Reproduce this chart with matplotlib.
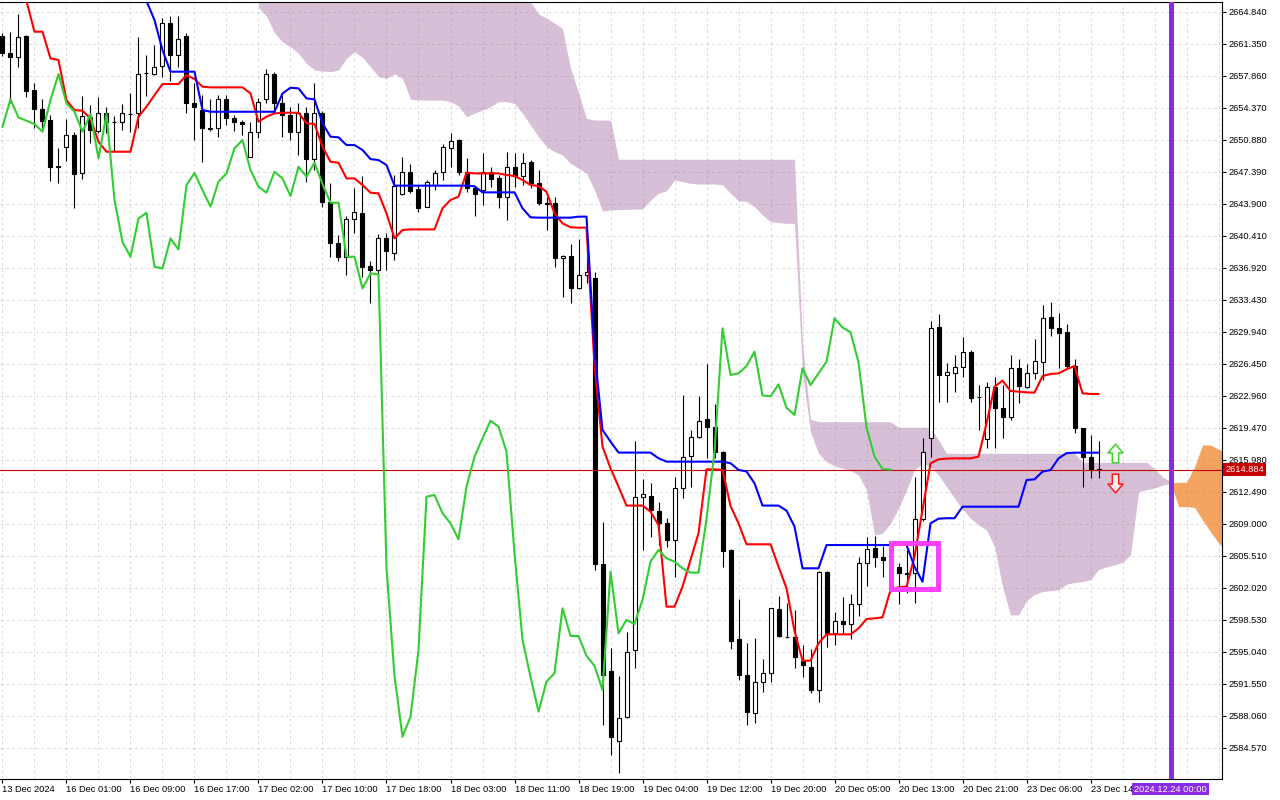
import numpy as np
import matplotlib.pyplot as plt
from matplotlib.patches import Rectangle
from matplotlib.path import Path

plt.rcParams['font.family'] = ['Liberation Sans', 'DejaVu Sans']

# XAUUSD H1, 13 Dec 2024 16:00 .. 23 Dec 2024 15:00 (bar index 0..137)
opens = [
    2662.19, 2660.37, 2659.93, 2662.19, 2656.29, 2654.22, 2653.02, 2648.00, 2650.04, 2651.39,
    2647.20, 2653.39, 2651.86, 2653.75, 2652.80, 2652.77, 2653.70, 2653.82, 2658.11, 2658.04,
    2658.91, 2663.64, 2660.11, 2662.19, 2654.84, 2654.12, 2652.15, 2652.12, 2655.28, 2653.21,
    2652.85, 2648.96, 2651.68, 2655.28, 2658.04, 2654.84, 2653.57, 2651.68, 2653.75, 2648.74,
    2653.75, 2644.12, 2639.65, 2638.05, 2642.20, 2642.85, 2637.11, 2636.67, 2640.12, 2638.56,
    2644.96, 2647.32, 2645.50, 2643.58, 2645.94, 2647.40, 2649.94, 2650.85, 2647.40, 2645.58,
    2645.40, 2647.40, 2646.67, 2644.67, 2647.87, 2646.92, 2648.49, 2646.12, 2643.94, 2643.94,
    2637.98, 2638.20, 2634.67, 2636.09, 2635.76, 2604.61, 2592.95, 2585.31, 2587.89, 2595.24,
    2611.88, 2612.03, 2610.39, 2609.05, 2607.23, 2612.87, 2616.39, 2618.43, 2620.39, 2619.52,
    2616.79, 2606.14, 2596.44, 2592.51, 2588.33, 2591.78, 2592.69, 2599.67, 2596.69, 2596.69,
    2594.03, 2593.41, 2590.87, 2603.77, 2597.05, 2598.43, 2598.07, 2600.25, 2604.68, 2606.32,
    2605.34, 2605.00, 2604.25, 2603.59, 2603.66, 2609.48, 2618.31, 2630.42, 2625.22, 2625.48,
    2626.06, 2627.77, 2622.86, 2618.21, 2623.90, 2621.66, 2620.68, 2625.95, 2623.95, 2625.40,
    2626.67, 2631.51, 2630.31, 2629.95, 2626.20, 2619.40, 2616.24, 2615.00,
]
highs = [
    2662.50, 2662.66, 2664.59, 2662.30, 2657.09, 2655.31, 2653.57, 2649.93, 2653.13, 2651.75,
    2655.64, 2654.66, 2655.50, 2654.40, 2653.46, 2654.77, 2655.93, 2662.04, 2660.11, 2661.20,
    2664.11, 2664.37, 2664.37, 2662.48, 2657.02, 2655.75, 2655.28, 2655.75, 2655.75, 2653.57,
    2653.03, 2652.85, 2655.39, 2658.55, 2658.30, 2655.75, 2654.41, 2654.84, 2654.48, 2657.03,
    2654.00, 2646.12, 2640.50, 2642.56, 2645.58, 2646.92, 2637.60, 2640.60, 2640.67, 2647.03,
    2648.96, 2648.23, 2645.94, 2646.49, 2647.58, 2650.41, 2651.65, 2650.92, 2648.85, 2645.76,
    2649.40, 2647.94, 2647.03, 2649.58, 2649.40, 2649.40, 2648.67, 2647.58, 2644.67, 2644.67,
    2638.31, 2639.51, 2640.02, 2639.03, 2636.50, 2609.23, 2595.42, 2592.40, 2597.16, 2618.03,
    2613.85, 2613.41, 2611.41, 2609.60, 2614.14, 2623.00, 2619.23, 2622.94, 2626.42, 2622.06,
    2616.90, 2606.21, 2600.80, 2595.96, 2596.51, 2594.22, 2599.85, 2601.12, 2600.40, 2599.60,
    2595.78, 2595.31, 2603.88, 2603.88, 2599.41, 2600.98, 2601.34, 2605.41, 2607.52, 2607.66,
    2606.57, 2605.60, 2604.76, 2606.14, 2614.07, 2618.31, 2631.15, 2631.87, 2626.49, 2627.40,
    2629.33, 2627.95, 2624.13, 2624.49, 2625.00, 2624.13, 2627.40, 2626.93, 2626.42, 2629.11,
    2632.85, 2633.22, 2632.02, 2630.78, 2626.93, 2619.40, 2618.68, 2618.02,
]
lows = [
    2660.00, 2654.84, 2658.84, 2655.57, 2652.19, 2652.11, 2646.40, 2646.11, 2648.59, 2643.39,
    2646.59, 2650.48, 2651.64, 2651.64, 2649.57, 2651.93, 2651.75, 2652.11, 2655.64, 2657.93,
    2657.75, 2657.31, 2658.84, 2653.82, 2650.88, 2648.48, 2651.86, 2651.21, 2652.48, 2651.86,
    2651.39, 2648.96, 2651.03, 2654.84, 2653.75, 2651.14, 2650.85, 2649.21, 2646.30, 2647.57,
    2643.50, 2638.05, 2637.60, 2636.12, 2640.67, 2635.94, 2633.04, 2635.94, 2636.67, 2637.76,
    2644.85, 2645.10, 2643.03, 2643.51, 2645.40, 2646.49, 2647.87, 2647.03, 2645.21, 2642.60,
    2643.76, 2645.76, 2643.40, 2642.12, 2645.76, 2645.94, 2645.58, 2643.76, 2641.03, 2636.96,
    2633.76, 2633.03, 2634.56, 2635.22, 2603.96, 2587.06, 2583.79, 2581.79, 2587.78, 2593.24,
    2606.14, 2607.60, 2606.69, 2606.43, 2603.23, 2611.78, 2613.05, 2618.32, 2616.14, 2616.14,
    2604.32, 2595.31, 2591.97, 2587.06, 2587.24, 2590.69, 2591.78, 2596.69, 2596.51, 2593.24,
    2592.25, 2590.58, 2589.60, 2595.60, 2595.78, 2597.05, 2596.40, 2598.94, 2602.21, 2604.25,
    2603.16, 2603.40, 2600.25, 2601.41, 2600.40, 2609.30, 2616.32, 2622.31, 2622.31, 2623.40,
    2624.97, 2622.31, 2619.22, 2617.22, 2617.25, 2618.31, 2620.31, 2622.20, 2623.77, 2624.75,
    2624.68, 2629.47, 2625.95, 2625.95, 2618.93, 2612.97, 2613.95, 2613.95,
]
closes = [
    2660.29, 2659.93, 2662.04, 2656.22, 2654.19, 2652.95, 2647.93, 2647.90, 2651.35, 2647.09,
    2653.46, 2651.93, 2653.75, 2652.77, 2652.77, 2653.75, 2653.68, 2658.04, 2658.18, 2658.77,
    2663.64, 2660.11, 2661.82, 2654.84, 2654.40, 2652.12, 2652.10, 2655.28, 2653.21, 2652.77,
    2652.55, 2651.68, 2655.03, 2658.04, 2654.84, 2653.57, 2651.68, 2653.75, 2648.77, 2653.75,
    2644.12, 2639.65, 2638.05, 2642.20, 2642.96, 2637.04, 2636.67, 2640.12, 2638.78, 2645.83,
    2647.32, 2645.32, 2643.47, 2646.30, 2647.21, 2650.05, 2650.78, 2647.40, 2645.58, 2644.96,
    2647.40, 2646.60, 2644.67, 2647.94, 2646.92, 2648.38, 2646.12, 2643.94, 2643.90, 2637.94,
    2638.20, 2634.67, 2636.13, 2636.42, 2604.61, 2592.51, 2585.71, 2587.78, 2595.05, 2611.88,
    2612.21, 2610.50, 2609.05, 2607.23, 2612.87, 2616.32, 2618.43, 2620.25, 2619.52, 2616.87,
    2606.07, 2596.25, 2592.51, 2588.44, 2591.78, 2592.69, 2599.78, 2596.76, 2596.65, 2594.51,
    2593.60, 2590.87, 2603.77, 2597.05, 2598.43, 2598.03, 2600.25, 2604.76, 2606.21, 2605.34,
    2605.05, 2604.60, 2603.67, 2603.55, 2609.48, 2616.86, 2630.31, 2625.22, 2625.51, 2626.06,
    2627.77, 2622.75, 2622.80, 2623.95, 2621.59, 2620.68, 2625.95, 2624.06, 2625.40, 2626.75,
    2631.40, 2630.31, 2629.84, 2626.20, 2619.40, 2616.24, 2614.97, 2614.88,
]

# Ichimoku lines
tenkan = [
    2668.50, 2668.00, 2667.30, 2666.00, 2662.66, 2662.66, 2659.75, 2659.57, 2655.20, 2654.11,
    2654.04, 2653.20, 2650.66, 2649.57, 2649.57, 2649.57, 2649.57, 2653.39, 2654.48, 2655.75,
    2656.95, 2656.95, 2656.95, 2657.93, 2657.50, 2656.66, 2656.59, 2656.59, 2656.59, 2656.59,
    2656.59, 2655.93, 2652.85, 2653.39, 2653.75, 2653.82, 2653.82, 2653.82, 2652.66, 2652.60,
    2650.12, 2648.48, 2648.37, 2646.66, 2646.66, 2645.94, 2645.10, 2645.03, 2642.85, 2640.13,
    2641.03, 2641.10, 2641.10, 2641.10, 2641.10, 2643.40, 2644.31, 2644.67, 2647.29, 2647.21,
    2647.21, 2647.21, 2647.21, 2647.03, 2646.92, 2646.49, 2645.94, 2645.83, 2645.21, 2642.85,
    2641.76, 2641.33, 2641.29, 2641.29, 2626.30, 2617.41, 2615.05, 2613.05, 2610.98, 2610.98,
    2610.98, 2610.32, 2608.87, 2599.96, 2599.96, 2602.14, 2605.05, 2607.96, 2614.94, 2614.94,
    2614.87, 2610.94, 2609.05, 2606.76, 2606.76, 2606.76, 2606.76, 2604.32, 2601.96, 2597.30,
    2594.07, 2594.07, 2595.96, 2596.94, 2596.94, 2596.94, 2596.94, 2597.59, 2598.61, 2598.68,
    2598.79, 2601.78, 2602.07, 2602.14, 2605.41, 2610.50, 2615.59, 2616.02, 2616.10, 2616.13,
    2616.13, 2616.13, 2616.32, 2619.95, 2623.95, 2624.60, 2623.48, 2623.40, 2623.33, 2623.30,
    2625.11, 2625.33, 2625.40, 2625.84, 2626.20, 2623.22, 2623.15, 2623.15,
]
kijun = [
    2667.50, 2667.50, 2667.50, 2667.50, 2667.50, 2667.50, 2667.50, 2667.50, 2667.50, 2667.50,
    2667.50, 2667.50, 2667.50, 2667.50, 2667.50, 2667.50, 2667.50, 2667.50, 2666.00, 2663.93,
    2660.66, 2658.30, 2658.30, 2658.30, 2658.30, 2654.12, 2653.93, 2653.93, 2653.93, 2653.93,
    2653.93, 2653.93, 2653.93, 2653.93, 2653.93, 2655.93, 2656.55, 2656.48, 2655.39, 2655.28,
    2652.66, 2651.21, 2651.14, 2650.30, 2650.30, 2649.76, 2648.77, 2648.66, 2648.12, 2645.87,
    2645.87, 2645.87, 2645.87, 2645.87, 2645.87, 2645.87, 2645.87, 2645.87, 2645.87, 2645.80,
    2645.14, 2645.14, 2645.14, 2645.14, 2645.14, 2643.40, 2642.42, 2642.38, 2642.38, 2642.38,
    2642.38, 2642.38, 2642.49, 2642.49, 2627.80, 2619.23, 2617.96, 2616.76, 2616.76, 2616.76,
    2616.76, 2616.76, 2616.14, 2615.77, 2615.77, 2615.77, 2615.77, 2615.77, 2615.77, 2615.77,
    2615.77, 2615.60, 2614.87, 2614.70, 2613.41, 2610.98, 2610.98, 2610.98, 2610.43, 2608.69,
    2604.14, 2604.14, 2604.14, 2606.68, 2606.68, 2606.68, 2606.68, 2606.68, 2606.68, 2606.68,
    2606.68, 2606.68, 2606.68, 2606.68, 2604.32, 2602.68, 2609.04, 2609.55, 2609.60, 2609.60,
    2610.86, 2610.86, 2610.86, 2610.86, 2610.86, 2610.86, 2610.86, 2610.86, 2613.77, 2613.84,
    2614.68, 2614.86, 2616.13, 2616.70, 2616.75, 2616.75, 2616.75, 2616.75,
]
# lagging span, drawn from bar 0 to bar 111
chikou = [
    2652.29, 2655.28, 2653.31, 2652.95, 2652.59, 2651.75, 2655.20, 2658.04, 2654.84, 2653.93,
    2651.75, 2653.68, 2648.84, 2653.68, 2644.29, 2639.75, 2638.11, 2642.29, 2642.91, 2637.02,
    2636.84, 2640.11, 2638.91, 2645.93, 2647.25, 2645.39, 2643.58, 2646.30, 2647.21, 2649.94,
    2650.85, 2647.57, 2645.76, 2645.10, 2647.39, 2646.66, 2644.74, 2647.94, 2646.85, 2648.37,
    2646.05, 2644.01, 2644.01, 2638.12, 2638.12, 2634.67, 2636.30, 2636.20, 2604.20, 2592.40,
    2585.78, 2587.96, 2595.23, 2611.95, 2612.13, 2610.14, 2609.05, 2607.30, 2613.04, 2616.31,
    2618.31, 2620.24, 2619.59, 2616.86, 2605.77, 2596.32, 2592.32, 2588.51, 2591.78, 2592.69,
    2599.78, 2596.76, 2596.76, 2594.60, 2593.50, 2590.87, 2603.78, 2597.05, 2598.51, 2598.07,
    2600.69, 2604.87, 2606.14, 2605.23, 2604.87, 2604.14, 2603.67, 2603.67, 2609.50, 2616.90,
    2630.31, 2625.22, 2625.40, 2626.20, 2627.77, 2623.00, 2622.90, 2624.20, 2621.65, 2620.86,
    2625.95, 2624.13, 2625.40, 2626.67, 2631.40, 2630.40, 2629.90, 2626.60, 2619.50, 2616.32,
    2614.97, 2614.90,
]
# cloud spans, bar 32 .. 153 (runs past the last candle)
cloud_start = 32
span_a = [
    2665.30, 2664.37, 2662.55, 2661.54, 2661.02, 2660.30, 2659.21, 2658.48, 2658.37, 2658.30,
    2658.48, 2659.76, 2660.48, 2659.87, 2658.84, 2657.75, 2657.58, 2658.05, 2657.58, 2655.29,
    2655.21, 2655.21, 2655.21, 2655.21, 2655.03, 2654.56, 2653.39, 2653.76, 2654.12, 2654.48,
    2655.03, 2655.03, 2654.85, 2653.76, 2652.48, 2651.21, 2650.12, 2649.57, 2649.21, 2648.31,
    2647.76, 2647.22, 2645.40, 2643.10, 2643.22, 2643.25, 2643.28, 2643.30, 2643.32, 2644.31,
    2645.04, 2645.32, 2646.49, 2646.30, 2646.13, 2646.05, 2646.05, 2646.05, 2645.97, 2645.04,
    2644.23, 2644.15, 2643.58, 2642.67, 2641.94, 2641.85, 2641.76, 2641.76, 2625.50, 2619.00,
    2616.68, 2615.77, 2615.30, 2615.05, 2614.79, 2614.32, 2612.68, 2607.77, 2607.96, 2609.05,
    2610.69, 2612.68, 2614.86, 2615.59, 2615.22, 2614.32, 2613.04, 2611.78, 2610.58, 2609.60,
    2608.87, 2608.32, 2606.50, 2602.14, 2599.05, 2599.05, 2600.60, 2601.30, 2601.60, 2601.70,
    2601.80, 2602.40, 2602.60, 2602.70, 2602.90, 2604.00, 2604.30, 2604.50, 2604.80, 2605.60,
    2612.50, 2612.70, 2612.90, 2613.20, 2613.40, 2613.52, 2613.52, 2615.22, 2617.59, 2617.59,
    2617.12, 2616.80,
]
span_b = [
    2668.00, 2668.00, 2668.00, 2668.00, 2668.00, 2668.00, 2668.00, 2668.00, 2668.00, 2668.00,
    2668.00, 2668.00, 2668.00, 2668.00, 2668.00, 2668.00, 2668.00, 2668.00, 2668.00, 2668.00,
    2668.00, 2668.00, 2668.00, 2668.00, 2668.00, 2668.00, 2668.00, 2668.00, 2668.00, 2668.00,
    2668.00, 2668.00, 2668.00, 2668.00, 2665.90, 2664.60, 2664.12, 2663.60, 2663.00, 2658.70,
    2656.00, 2653.20, 2653.03, 2653.03, 2653.00, 2648.75, 2648.75, 2648.75, 2648.75, 2648.75,
    2648.75, 2648.75, 2648.75, 2648.75, 2648.75, 2648.75, 2648.75, 2648.75, 2648.75, 2648.75,
    2648.75, 2648.75, 2648.75, 2648.75, 2648.75, 2648.75, 2648.75, 2648.75, 2628.50, 2620.40,
    2620.13, 2620.13, 2620.13, 2620.13, 2620.13, 2620.13, 2620.13, 2620.13, 2620.13, 2620.13,
    2619.52, 2619.52, 2619.52, 2619.52, 2619.52, 2618.13, 2616.68, 2616.68, 2616.68, 2616.68,
    2616.68, 2616.68, 2616.68, 2616.68, 2616.68, 2616.68, 2616.68, 2616.68, 2616.68, 2616.68,
    2616.68, 2616.68, 2616.68, 2615.70, 2615.70, 2615.70, 2615.70, 2615.70, 2615.70, 2615.70,
    2615.70, 2615.70, 2615.00, 2614.10, 2613.60, 2610.86, 2610.86, 2610.79, 2609.41, 2608.13,
    2606.93, 2606.00,
]

price_ticks = [2664.840, 2661.350, 2657.860, 2654.370, 2650.880, 2647.390, 2643.900, 2640.410,
               2636.920, 2633.430, 2629.940, 2626.450, 2622.960, 2619.470, 2615.980, 2612.490,
               2609.000, 2605.510, 2602.020, 2598.530, 2595.040, 2591.550, 2588.060, 2584.570]
time_pos = [0, 8, 16, 24, 32, 40, 48, 56, 64, 72, 80, 88, 96, 104, 112, 120, 128, 136]
time_labels = ["13 Dec 2024", "16 Dec 01:00", "16 Dec 09:00", "16 Dec 17:00", "17 Dec 02:00",
               "17 Dec 10:00", "17 Dec 18:00", "18 Dec 03:00", "18 Dec 11:00", "18 Dec 19:00",
               "19 Dec 04:00", "19 Dec 12:00", "19 Dec 20:00", "20 Dec 05:00", "20 Dec 13:00",
               "20 Dec 21:00", "23 Dec 06:00", "23 Dec 14:00"]

last_price = 2614.884
future_bar = 146
future_label = "2024.12.24 00:00"
up_signal = (139, 2616.68)
down_signal = (139, 2613.47)
box_bars = (111.05, 116.95)
box_prices = (2601.86, 2606.88)

fig = plt.figure(figsize=(12.8, 8), dpi=100)
ax = fig.add_axes([0.0, 0.02588, 0.95492, 0.97163])
ax.set_xlim(-0.31, 152.47)
ax.set_ylim(2581.13, 2665.90)

# grid (MT5 style dashes, drawn over the cloud)
grid_kw = dict(color='#808080', alpha=0.28, lw=0.7, ls=(0, (3, 3)), zorder=1.6)
for p in price_ticks:
    ax.axhline(p, **grid_kw)
for g in range(0, 153, 4):
    ax.axvline(g, **grid_kw)

# cloud
cx = np.arange(cloud_start, cloud_start + len(span_a))
sa = np.array(span_a)
sb = np.array(span_b)
ax.fill_between(cx, sa, sb, where=sa <= sb, interpolate=True, color='#d8bfd8', lw=0, zorder=1)
ax.fill_between(cx, sa, sb, where=sa >= sb, interpolate=True, color='#f4a460', lw=0, zorder=1)

# candles
x = np.arange(len(closes))
o = np.array(opens)
c = np.array(closes)
bull = c >= o
ax.vlines(x, lows, highs, color='black', lw=0.8, zorder=3)
ax.bar(x, np.abs(c - o), width=0.5, bottom=np.minimum(o, c),
       color=np.where(bull, 'white', 'black'), edgecolor='black', linewidth=0.8, zorder=3.2)

# bid line
ax.axhline(last_price, color='#c00000', lw=0.8, zorder=3.5)

# ichimoku lines
ax.plot(x, tenkan, color='#ff0000', lw=1.5, zorder=4)
ax.plot(x, kijun, color='#0000ff', lw=1.5, zorder=4)
ax.plot(np.arange(len(chikou)), chikou, color='#32cd32', lw=1.5, zorder=4)

# highlight box
ax.add_patch(Rectangle((box_bars[0], box_prices[0]), box_bars[1] - box_bars[0],
                       box_prices[1] - box_prices[0], fill=False, ec='#ff40ff', lw=3.6, zorder=6))

# day separator for the next session
ax.axvline(future_bar, color='#8a2be2', lw=3.6, zorder=6)

# signal arrows
up_path = Path([(-0.17, -0.5), (0.17, -0.5), (0.17, 0.03), (0.4, 0.03), (0, 0.5),
                (-0.4, 0.03), (-0.17, 0.03), (-0.17, -0.5)], closed=True)
down_path = Path([(-0.17, 0.5), (0.17, 0.5), (0.17, -0.03), (0.4, -0.03), (0, -0.5),
                  (-0.4, -0.03), (-0.17, -0.03), (-0.17, 0.5)], closed=True)
ax.plot(*up_signal, marker=up_path, ms=13.5, mfc='#f4fff0', mec='#44cc33', mew=1.1, zorder=7)
ax.plot(*down_signal, marker=down_path, ms=13.5, mfc='#fff0f0', mec='#ff1a1a', mew=1.1, zorder=7)

# axes look
for side in ['left']:
    ax.spines[side].set_visible(False)
for side in ['top', 'right', 'bottom']:
    ax.spines[side].set_color('black')
    ax.spines[side].set_linewidth(0.8)

ax.yaxis.tick_right()
ax.set_yticks(price_ticks)
ax.set_yticklabels([f'{p:.3f}' for p in price_ticks])
ax.tick_params(axis='y', direction='out', length=3, width=0.8, pad=1.5, labelsize=6.7)
ax.set_xticks(time_pos)
ax.set_xticklabels(time_labels, ha='left')
ax.tick_params(axis='x', direction='out', length=3, width=0.8, pad=1, labelsize=6.7)

ax.text(1.0025, last_price, f'{last_price:.3f}', transform=ax.get_yaxis_transform(),
        ha='left', va='center', fontsize=6.7, color='white', clip_on=False, zorder=10,
        bbox=dict(boxstyle='square,pad=0.2', fc='#c80000', ec='none'))
ax.text(future_bar, -0.0125, future_label, transform=ax.get_xaxis_transform(),
        ha='center', va='center', fontsize=6.7, color='white', clip_on=False, zorder=10,
        bbox=dict(boxstyle='square,pad=0.2', fc='#8a2be2', ec='none'))

fig.savefig('out.png', dpi=100)
